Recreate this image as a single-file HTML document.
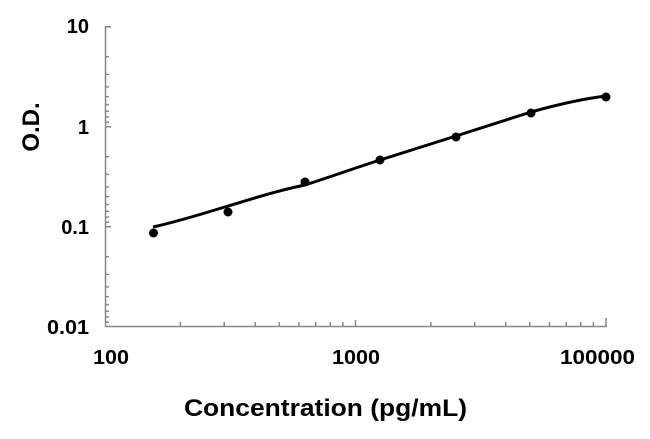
<!DOCTYPE html>
<html><head><style>body{margin:0;background:#fff}svg{display:block}</style></head><body>
<svg width="650" height="439" xmlns="http://www.w3.org/2000/svg" font-family="Liberation Sans, Arial, sans-serif" font-weight="bold">
<g stroke="#888" stroke-width="1.5" fill="none">
<line x1="105.5" y1="26" x2="105.5" y2="327"/>
<line x1="105" y1="326.5" x2="607" y2="326.5"/>
<path d="M105 26.7h6M105 126.7h6M105 226.7h6
M105 56.8h4M105 74.4h4M105 86.9h4M105 96.6h4M105 104.5h4M105 111.2h4M105 117h4M105 122.1h4
M105 156.8h4M105 174.4h4M105 186.9h4M105 196.6h4M105 204.5h4M105 211.2h4M105 217h4M105 222.1h4
M105 256.8h4M105 274.4h4M105 286.9h4M105 296.6h4M105 304.5h4M105 311.2h4M105 317h4M105 322.1h4
M355.5 326v-6M606 326v-8
M180.4 326v-4M224.2 326v-4M255.2 326v-4M279.3 326v-4M299 326v-4M315.7 326v-4M330.2 326v-4M342.9 326v-4
M430.9 326v-4M474.7 326v-4M505.7 326v-4M529.8 326v-4M549.5 326v-4M566.2 326v-4M580.7 326v-4M593.4 326v-4"/>
</g>
<g font-size="20" text-anchor="end">
<text x="89" y="33">10</text>
<text x="89" y="134">1</text>
<text x="89" y="234">0.1</text>
<text x="89" y="334" textLength="42" lengthAdjust="spacingAndGlyphs">0.01</text>
</g>
<g font-size="20">
<text x="93" y="364" textLength="36" lengthAdjust="spacingAndGlyphs">100</text>
<text x="332" y="364" textLength="48" lengthAdjust="spacingAndGlyphs">1000</text>
<text x="560" y="364" textLength="75" lengthAdjust="spacingAndGlyphs">100000</text>
</g>
<text x="184" y="416" font-size="24" textLength="283" lengthAdjust="spacingAndGlyphs">Concentration (pg/mL)</text>
<text transform="translate(39,127) rotate(-90)" font-size="24" text-anchor="middle">O.D.</text>
<path d="M153 227 C180 221 205 213 228 206 C255 198 280 190 305 185 C330 177 355 168 380 160 C405 152 430 144 456 136 C481 128 506 120 531 112 C556 105 581 99 606 96" stroke="#000" stroke-width="3" fill="none"/>
<g fill="#000">
<circle cx="153.5" cy="233" r="4.5"/>
<circle cx="228" cy="212" r="4.5"/>
<circle cx="305" cy="182" r="4.5"/>
<circle cx="380" cy="160" r="4.5"/>
<circle cx="456" cy="137" r="4.5"/>
<circle cx="531" cy="113" r="4.5"/>
<circle cx="606" cy="97" r="4.5"/>
</g>
</svg>
</body></html>
